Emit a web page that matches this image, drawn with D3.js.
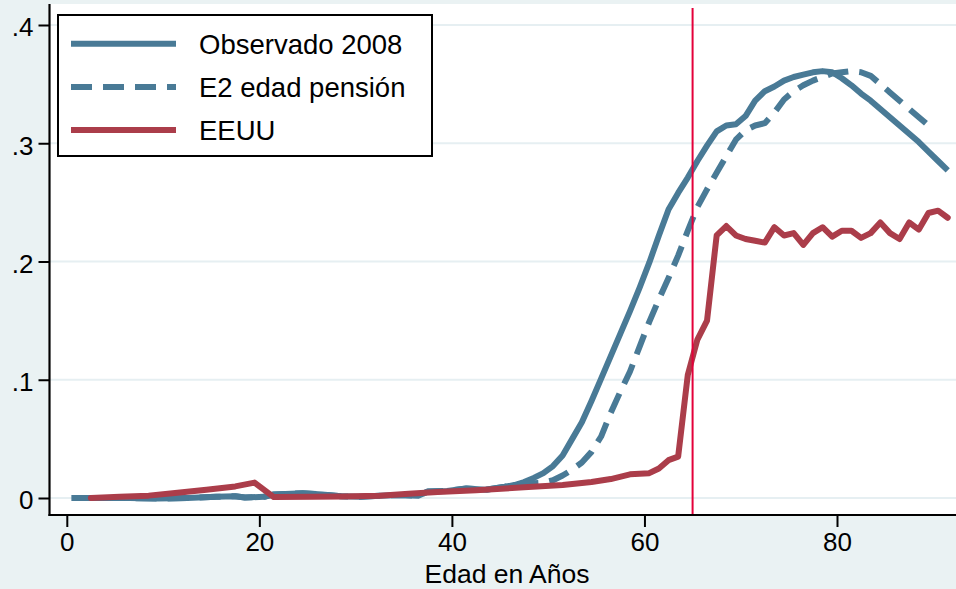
<!DOCTYPE html>
<html>
<head>
<meta charset="utf-8">
<script src="https://cdn.jsdelivr.net/npm/d3@7/dist/d3.min.js"></script>
<style>
  html, body { margin: 0; padding: 0; background: #eaf2f3; }
  svg { display: block; }
  text { font-family: "Liberation Sans", Arial, Helvetica, sans-serif; fill: #000; }
</style>
</head>
<body>
<svg id="chart" width="956" height="589"></svg>
<script>
// ---------------- DATA ----------------
const seriesNames = ["Observado 2008", "E2 edad pensión", "EEUU"];
const xTicks = [0, 20, 40, 60, 80];
const yTicks = [0, 0.1, 0.2, 0.3, 0.4];
const yTickLabels = ["0", ".1", ".2", ".3", ".4"];
const xTitle = "Edad en Años";
const retirementAge = 65;

// Observado 2008 (solid blue)
const obsAge = [0.5, 3.5, 6.5, 9.5, 12.5, 15.5, 17.5, 18.5, 20.5, 21.5, 24.5, 26.5, 28.5, 30.5, 32.5, 34.5, 36.5, 37.5, 39.5, 41.5, 43.5, 45.5, 46.5, 47.5, 48.5, 49.5, 50.5, 51.5, 52.5, 53.5, 54.5, 55.5, 56.5, 57.5, 58.5, 59.5, 60.5, 61.5, 62.5, 63.5, 64.5, 65.5, 66.5, 67.5, 68.5, 69.5, 70.5, 71.5, 72.5, 73.5, 74.5, 75.5, 76.5, 77.5, 78.5, 79.5, 80.5, 81.5, 82.5, 83.5, 84.5, 85.5, 86.5, 87.5, 88.5, 89.5, 90.5, 91.5];
const obsVal = [0, 0, 0, -0.0005, 0, 0.001, 0.0015, 0.0005, 0.001, 0.003, 0.004, 0.003, 0.0015, 0.001, 0.002, 0.0025, 0.002, 0.0055, 0.006, 0.008, 0.007, 0.0095, 0.011, 0.0135, 0.017, 0.021, 0.027, 0.036, 0.050, 0.064, 0.082, 0.101, 0.120, 0.139, 0.158, 0.178, 0.199, 0.222, 0.244, 0.258, 0.271, 0.285, 0.298, 0.310, 0.315, 0.316, 0.323, 0.336, 0.344, 0.348, 0.353, 0.356, 0.358, 0.360, 0.361, 0.360, 0.355, 0.349, 0.342, 0.336, 0.329, 0.322, 0.315, 0.308, 0.301, 0.293, 0.285, 0.277];

// E2 edad pensión (dashed blue)
const e2Age = [0.5, 3.5, 6.5, 9.5, 12.5, 15.5, 17.5, 18.5, 20.5, 21.5, 24.5, 26.5, 28.5, 30.5, 32.5, 34.5, 36.5, 37.5, 39.5, 41.5, 43.5, 45.5, 46.5, 47.5, 48.5, 49.5, 50.5, 51.5, 52.5, 53.5, 54.5, 55.5, 56.5, 57.5, 58.5, 59.5, 60.5, 61.5, 62.5, 63.5, 64.5, 65.5, 66.5, 67.5, 68.5, 69.5, 70.5, 71.5, 72.5, 73.5, 74.5, 75.5, 76.5, 77.5, 78.5, 79.5, 80.5, 81.5, 82.5, 83.5, 84.5, 85.5, 86.5, 87.5, 88.5, 89.5];
const e2Val = [0, 0, 0, -0.0005, 0, 0.001, 0.0015, 0.0005, 0.001, 0.003, 0.004, 0.003, 0.0015, 0.001, 0.002, 0.0025, 0.002, 0.0055, 0.006, 0.008, 0.007, 0.0095, 0.011, 0.0125, 0.0125, 0.013, 0.015, 0.019, 0.024, 0.030, 0.039, 0.052, 0.072, 0.090, 0.107, 0.128, 0.149, 0.168, 0.186, 0.205, 0.226, 0.246, 0.261, 0.275, 0.289, 0.303, 0.311, 0.315, 0.317, 0.326, 0.337, 0.344, 0.349, 0.353, 0.356, 0.359, 0.360, 0.361, 0.360, 0.357, 0.350, 0.343, 0.336, 0.329, 0.322, 0.315];

// EEUU (solid red)
const usAge = [2.5, 5.5, 8.5, 11.5, 14.5, 17.5, 19.5, 21.5, 25.5, 28.5, 32.5, 35.5, 38.5, 42.5, 47.5, 51.5, 54.5, 56.5, 58.5, 60.5, 61.5, 62.5, 63.5, 64.5, 65.5, 66.5, 67.5, 68.5, 69.5, 70.5, 71.5, 72.5, 73.5, 74.5, 75.5, 76.5, 77.5, 78.5, 79.5, 80.5, 81.5, 82.5, 83.5, 84.5, 85.5, 86.5, 87.5, 88.5, 89.5, 90.5, 91.5];
const usVal = [0, 0.001, 0.002, 0.0045, 0.007, 0.0098, 0.013, 0.0008, 0.001, 0.0012, 0.002, 0.0035, 0.005, 0.0065, 0.009, 0.011, 0.0135, 0.016, 0.020, 0.021, 0.025, 0.032, 0.035, 0.104, 0.134, 0.150, 0.222, 0.230, 0.222, 0.219, 0.2175, 0.216, 0.229, 0.222, 0.224, 0.214, 0.224, 0.229, 0.221, 0.226, 0.226, 0.220, 0.224, 0.233, 0.224, 0.219, 0.233, 0.227, 0.241, 0.243, 0.237];

// ---------------- CHART ----------------
const W = 956, H = 589;
const plot = { left: 48, top: 4, right: 956, bottom: 515 };
const blue = "#497a96", red = "#ab3d4a", vline = "#e4003a";

const svg = d3.select("#chart");
svg.append("rect").attr("width", W).attr("height", H).attr("fill", "#eaf2f3");
svg.append("rect").attr("x", plot.left).attr("y", plot.top)
  .attr("width", plot.right - plot.left).attr("height", plot.bottom - plot.top).attr("fill", "#fff");

const x = d3.scaleLinear().domain([0, 80]).range([66.8, 837]);
const y = d3.scaleLinear().domain([0, 0.4]).range([498, 25]);

// grid
svg.append("g").selectAll("line").data(yTicks).join("line")
  .attr("x1", plot.left + 2).attr("x2", plot.right)
  .attr("y1", d => y(d)).attr("y2", d => y(d))
  .attr("stroke", "#e6eff2").attr("stroke-width", 2);

// lines
const line = d3.line().x(d => x(d[0])).y(d => y(d[1]));
const obs = obsAge.map((a, i) => [a, obsVal[i]]);
const e2 = e2Age.map((a, i) => [a, e2Val[i]]);
const us = usAge.map((a, i) => [a, usVal[i]]);

svg.append("path").datum(obs).attr("d", line).attr("fill", "none")
  .attr("stroke", blue).attr("stroke-width", 6).attr("stroke-linejoin", "round");
svg.append("path").datum(e2).attr("d", line).attr("fill", "none")
  .attr("stroke", blue).attr("stroke-width", 6).attr("stroke-linejoin", "round")
  .attr("stroke-dasharray", "21,11");
svg.append("path").datum(us).attr("d", line).attr("fill", "none")
  .attr("stroke", red).attr("stroke-width", 6).attr("stroke-linejoin", "round").attr("stroke-linecap", "round");

// vertical retirement line
svg.append("line").attr("x1", x(retirementAge)).attr("x2", x(retirementAge))
  .attr("y1", 8).attr("y2", plot.bottom).attr("stroke", vline).attr("stroke-width", 2);

// axes
const yAxis = d3.axisLeft(y).tickValues(yTicks).tickSize(11).tickPadding(5)
  .tickFormat((d, i) => yTickLabels[i]);
const gy = svg.append("g").attr("transform", `translate(${plot.left + 1.5},0)`).call(yAxis);
gy.select(".domain").attr("d", `M0,${plot.top}V${plot.bottom + 1}`).attr("stroke", "#000").attr("stroke-width", 2.2);
gy.selectAll(".tick line").attr("stroke", "#000").attr("stroke-width", 2);
gy.selectAll(".tick text").attr("font-size", 26).attr("dy", "0.42em")
  .style("font-family", '"Liberation Sans", Arial, sans-serif');

const xAxis = d3.axisBottom(x).tickValues(xTicks).tickSize(12).tickPadding(6);
const gx = svg.append("g").attr("transform", `translate(0,${plot.bottom})`).call(xAxis);
gx.select(".domain").attr("d", `M${plot.left + 0.5},0H${plot.right}`).attr("stroke", "#000").attr("stroke-width", 2.2);
gx.selectAll(".tick line").attr("stroke", "#000").attr("stroke-width", 2);
gx.selectAll(".tick text").attr("font-size", 26)
  .style("font-family", '"Liberation Sans", Arial, sans-serif');

svg.append("text").attr("x", 507).attr("y", 583).attr("text-anchor", "middle")
  .attr("font-size", 26.5).text(xTitle);

// legend
const lg = svg.append("g");
lg.append("rect").attr("x", 58).attr("y", 15).attr("width", 374).attr("height", 141)
  .attr("fill", "#fff").attr("stroke", "#000").attr("stroke-width", 2);
const legendRows = [
  { name: seriesNames[0], color: blue, dash: null },
  { name: seriesNames[1], color: blue, dash: "21,11" },
  { name: seriesNames[2], color: red, dash: null }
];
legendRows.forEach((r, i) => {
  const ly = 43.7 + i * 43.2;
  lg.append("line").attr("x1", 71).attr("x2", 176).attr("y1", ly).attr("y2", ly)
    .attr("stroke", r.color).attr("stroke-width", 6)
    .attr("stroke-dasharray", r.dash);
  lg.append("text").attr("x", 199).attr("y", ly + 10).attr("font-size", 27.5).text(r.name);
});
</script>
</body>
</html>
